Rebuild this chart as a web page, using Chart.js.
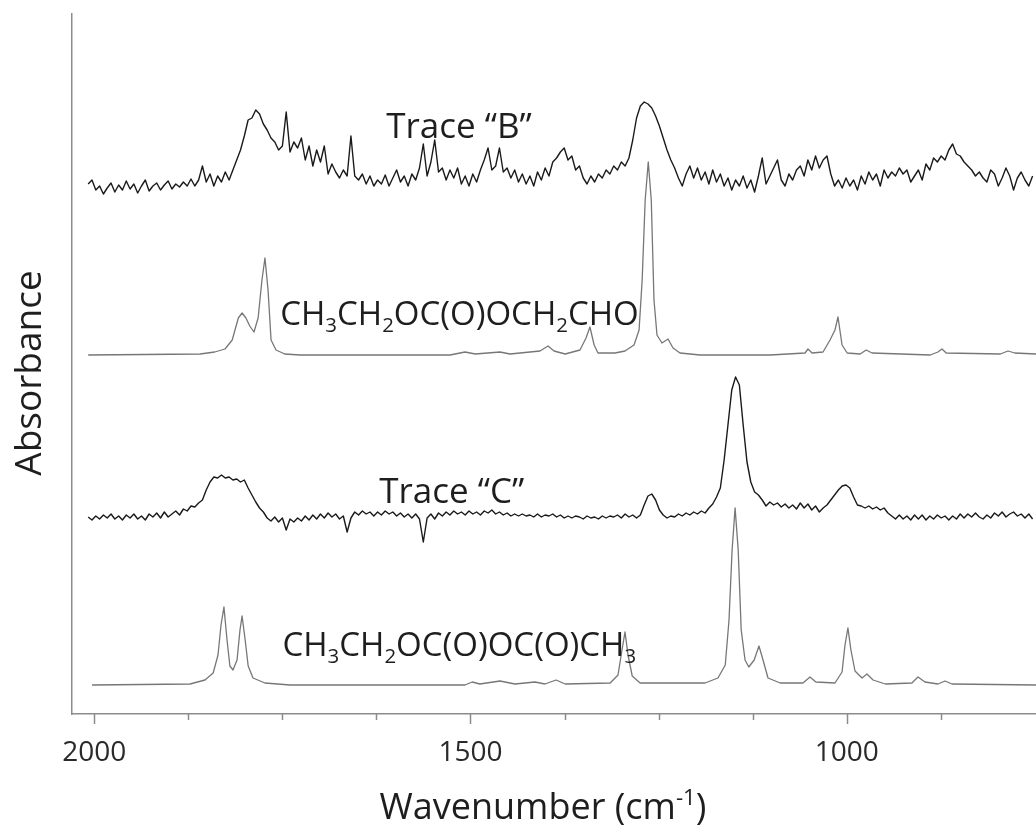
<!DOCTYPE html>
<html>
<head>
<meta charset="utf-8">
<script src="https://cdn.jsdelivr.net/npm/chart.js@4.4.1/dist/chart.umd.min.js"></script>
<style>
html,body{margin:0;padding:0;background:#ffffff;}
#wrap{width:1036px;height:825px;position:relative;}
</style>
</head>
<body>
<div id="wrap"><canvas id="c" width="1036" height="825"></canvas></div>
<script>
// ---------------- data (absorbance in arbitrary, offset units) ----------------
// noisy traces sampled on a regular wavenumber grid
const noisyStartWavenumber = 2008;
const noisyStepWavenumber = 5.06;

const traceB = [
530,534,524,528,520,526,531,522,529,524,
533,525,530,521,528,534,523,528,531,524,
529,533,525,530,527,532,528,535,528,534,
548,532,540,528,538,532,542,534,544,554,
564,578,594,596,604,600,590,584,576,572,
564,568,602,562,572,566,576,554,568,548,
564,552,568,540,550,542,536,544,538,578,
538,534,540,530,538,528,534,530,539,528,
536,544,532,538,528,540,534,546,570,538,
552,574,542,546,534,544,536,546,530,538,
528,540,532,544,554,566,544,548,566,542,
546,536,544,532,540,530,538,528,542,534,
546,538,552,556,562,566,554,558,544,548,
536,530,538,532,540,536,544,540,548,544,
552,548,556,574,596,608,612,610,606,598,
588,576,564,554,546,536,528,540,548,536,
546,534,542,530,544,532,540,528,536,524,
534,528,538,526,534,522,538,556,530,538,
546,554,534,528,540,534,544,548,538,554,
544,558,546,554,558,540,528,534,526,536,
528,534,524,538,530,542,534,540,528,544,
536,542,538,546,540,544,532,538,544,534,
550,544,556,552,558,554,564,570,560,558,
552,548,544,538,542,536,532,544,540,528,
536,546,538,524,536,542,534,528,538
];

const traceC = [
197,194,198,195,199,196,200,195,198,194,
199,196,200,195,198,194,200,197,201,196,
202,197,200,203,199,205,203,208,207,211,
214,224,232,237,236,239,236,237,234,235,
232,234,226,219,212,206,202,196,193,197,
192,196,184,195,192,196,193,198,194,199,
195,200,196,201,197,200,195,198,182,196,
202,199,203,200,202,198,202,199,203,200,
202,198,201,197,200,196,200,195,172,196,
200,195,201,198,202,199,203,200,202,199,
203,200,202,199,203,201,204,200,202,199,
201,198,200,198,200,198,199,197,200,197,
199,198,200,197,199,196,198,196,198,197,
195,198,196,197,195,198,196,198,197,199,
196,200,197,199,196,199,209,218,220,214,
204,199,196,198,197,200,198,201,199,202,
200,203,201,206,210,217,226,254,289,324,
337,329,289,252,232,222,219,214,208,212,
209,211,207,210,206,209,205,211,206,210,
204,208,202,206,209,214,219,224,228,229,
226,217,209,208,206,208,205,207,204,206,
201,198,195,199,195,198,194,199,195,199,
194,198,195,199,196,198,194,198,195,200,
196,200,197,201,197,195,199,196,201,198,
202,197,200,202,198,200,196,200,195
];

// reference spectra
const refWavenumbersAldehyde = [2008,1859.2,1839.9,1826.2,1816.6,1808.5,1803.5,1798.4,1793.3,1787.7,1782.2,1777.1,1773.1,1769.0,1765.0,1758.4,1746.8,1726.5,1527.1,1507.3,1493.6,1460.8,1447.5,1407.6,1397.0,1389.0,1374.2,1354.5,1346.5,1341.3,1335.7,1330.6,1308.0,1294.7,1282.7,1276.0,1271.9,1267.9,1263.8,1259.8,1256.2,1252.2,1245.6,1237.5,1230.9,1221.6,1195.0,1101.8,1055.5,1051.6,1046.1,1031.6,1022.3,1015.7,1011.7,1006.3,999.5,982.3,974.2,966.5,889.2,878.9,873.5,867.9,796.0,785.8,776.8,748.4];
const refValuesAldehyde = [359,360,362,365,374,396,401,396,388,382,396,434,456,424,374,364,360,359,359,362,360,362,360,363,368,363,360,364,376,387,369,361,361,363,369,384,434,514,552,514,414,379,371,375,366,361,359,359,361,365,361,362,374,384,397,369,361,360,364,361,359,362,365,361,360,363,361,360];

const refWavenumbersAnhydride = [2002.9,1872.7,1852.8,1841.9,1835.5,1831.5,1827.6,1823.5,1819.7,1815.6,1810.2,1806.3,1803.5,1799.4,1795.4,1789.0,1773.1,1739.7,1507.3,1497.7,1487.6,1460.8,1441.0,1414.3,1401.0,1386.3,1374.2,1314.4,1304.0,1298.7,1294.7,1290.7,1285.1,1274.7,1188.4,1171.2,1161.5,1156.5,1152.4,1148.4,1144.3,1140.3,1135.2,1130.2,1123.1,1116.7,1111.3,1104.7,1088.6,1058.3,1048.9,1041.1,1015.7,1006.3,1002.4,998.5,994.5,989.1,979.8,973.2,965.1,948.9,913.5,905.4,896.1,878.9,869.5,860.2,748.4];
const refValuesAnhydride = [29,30,34,41,59,89,107,74,48,44,54,84,98,74,48,36,31,29,29,32,30,33,30,32,30,34,30,31,39,64,82,59,38,31,31,36,49,94,164,206,164,84,54,47,54,68,54,36,31,31,37,32,31,42,69,86,64,43,36,40,34,30,31,37,32,30,33,30,29];

// axis ticks
const xTickValues = [2000,1875,1750,1625,1500,1375,1250,1125,1000,875];
const xTickLabels = [2000,1500,1000];
const xMinWavenumber = 748.6, xMaxWavenumber = 2029.5;
const yMin = 0, yMax = 700;

// in-plot labels, anchored at [wavenumber, absorbance]
const labelAnchors = [[1612.1,576],[1752.8,389],[1621.2,211],[1749.8,58]];
const labelParts = [
  [['Trace “B”','n']],
  [['CH','n'],['3','sub'],['CH','n'],['2','sub'],['OC(O)OCH','n'],['2','sub'],['CHO','n']],
  [['Trace “C”','n']],
  [['CH','n'],['3','sub'],['CH','n'],['2','sub'],['OC(O)OC(O)CH','n'],['3','sub']]
];
const xTitleParts = [['Wavenumber (cm','n'],['-1','sup'],[')','n']];
const yTitleText = 'Absorbance';

// ---------------- build ----------------
const noisyWavenumbers = traceB.map((_, i) => noisyStartWavenumber - i * noisyStepWavenumber);
const toXY = (xs, ys) => xs.map((x, i) => ({x: x, y: ys[i]}));

const FONT = '"Open Sans", "Segoe UI", "DejaVu Sans", sans-serif';
const AXIS_COLOR = '#8c8c8c';
const TEXT_COLOR = '#1e1e1e';
const LABEL_SIZES = [35, 33, 35, 33];

function richWidth(ctx, parts, size) {
  let w = 0;
  for (const [t, kind] of parts) {
    const fs = kind === 'n' ? size : size * 0.62;
    ctx.font = fs + 'px ' + FONT;
    w += ctx.measureText(t).width;
  }
  return w;
}
function drawRich(ctx, x, y, parts, size, color) {
  ctx.save();
  ctx.fillStyle = color;
  ctx.textAlign = 'left';
  ctx.textBaseline = 'alphabetic';
  let cx = x;
  for (const [t, kind] of parts) {
    let fs = size, dy = 0;
    if (kind === 'sub') { fs = size * 0.62; dy = size * 0.2; }
    if (kind === 'sup') { fs = size * 0.62; dy = -size * 0.4; }
    ctx.font = fs + 'px ' + FONT;
    ctx.fillText(t, cx, y + dy);
    cx += ctx.measureText(t).width;
  }
  ctx.restore();
}

const decorations = {
  id: 'decorations',
  afterDraw(chart) {
    const ctx = chart.ctx;
    const xs = chart.scales.x, ys = chart.scales.y;
    const bottom = chart.chartArea.bottom;
    // tick marks (longer for labelled ones)
    ctx.save();
    ctx.strokeStyle = AXIS_COLOR;
    ctx.lineWidth = 1.5;
    for (const v of xTickValues) {
      const px = Math.round(xs.getPixelForValue(v)) + 0.5;
      const len = xTickLabels.includes(v) ? 10 : 6;
      ctx.beginPath();
      ctx.moveTo(px, bottom);
      ctx.lineTo(px, bottom + len);
      ctx.stroke();
    }
    ctx.restore();
    // in-plot labels
    labelAnchors.forEach((a, i) => {
      drawRich(ctx, xs.getPixelForValue(a[0]), ys.getPixelForValue(a[1]), labelParts[i], LABEL_SIZES[i], TEXT_COLOR);
    });
    // x axis title
    const w = richWidth(ctx, xTitleParts, 36);
    drawRich(ctx, 543 - w / 2, 819, xTitleParts, 36, TEXT_COLOR);
    // y axis title
    ctx.save();
    ctx.translate(30, 373);
    ctx.rotate(-Math.PI / 2);
    ctx.font = '37px ' + FONT;
    ctx.fillStyle = TEXT_COLOR;
    ctx.textAlign = 'center';
    ctx.textBaseline = 'middle';
    ctx.fillText(yTitleText, 0, 0);
    ctx.restore();
  }
};

new Chart(document.getElementById('c'), {
  type: 'scatter',
  data: {
    datasets: [
      {label: 'Trace "B"', data: toXY(noisyWavenumbers, traceB), showLine: true, borderColor: '#1a1a1a', borderWidth: 1.4, pointRadius: 0, tension: 0},
      {label: 'CH3CH2OC(O)OCH2CHO', data: toXY(refWavenumbersAldehyde, refValuesAldehyde), showLine: true, borderColor: '#777777', borderWidth: 1.3, pointRadius: 0, tension: 0},
      {label: 'Trace "C"', data: toXY(noisyWavenumbers, traceC), showLine: true, borderColor: '#1a1a1a', borderWidth: 1.4, pointRadius: 0, tension: 0},
      {label: 'CH3CH2OC(O)OC(O)CH3', data: toXY(refWavenumbersAnhydride, refValuesAnhydride), showLine: true, borderColor: '#777777', borderWidth: 1.3, pointRadius: 0, tension: 0}
    ]
  },
  options: {
    responsive: false,
    animation: false,
    devicePixelRatio: 1,
    layout: {padding: {top: 14, right: 0, bottom: 0, left: 0}},
    plugins: {legend: {display: false}, tooltip: {enabled: false}},
    elements: {line: {borderJoinStyle: 'round'}},
    scales: {
      x: {
        type: 'linear', reverse: true, min: xMinWavenumber, max: xMaxWavenumber,
        afterBuildTicks: s => { s.ticks = xTickValues.map(v => ({value: v})); },
        afterFit: s => { s.height = 111; },
        grid: {display: true, drawOnChartArea: false, drawTicks: true, tickLength: 10, color: 'rgba(0,0,0,0)'},
        border: {display: true, color: AXIS_COLOR, width: 1.5},
        ticks: {
          autoSkip: false, maxRotation: 0, minRotation: 0, padding: 12, color: '#2a2a2a',
          font: {family: FONT, size: 28},
          callback: v => xTickLabels.includes(v) ? String(v) : ''
        }
      },
      y: {
        min: yMin, max: yMax,
        afterFit: s => { s.width = 72; },
        ticks: {display: false},
        grid: {display: false},
        border: {display: true, color: AXIS_COLOR, width: 1.5}
      }
    }
  },
  plugins: [decorations]
});
</script>
</body>
</html>
